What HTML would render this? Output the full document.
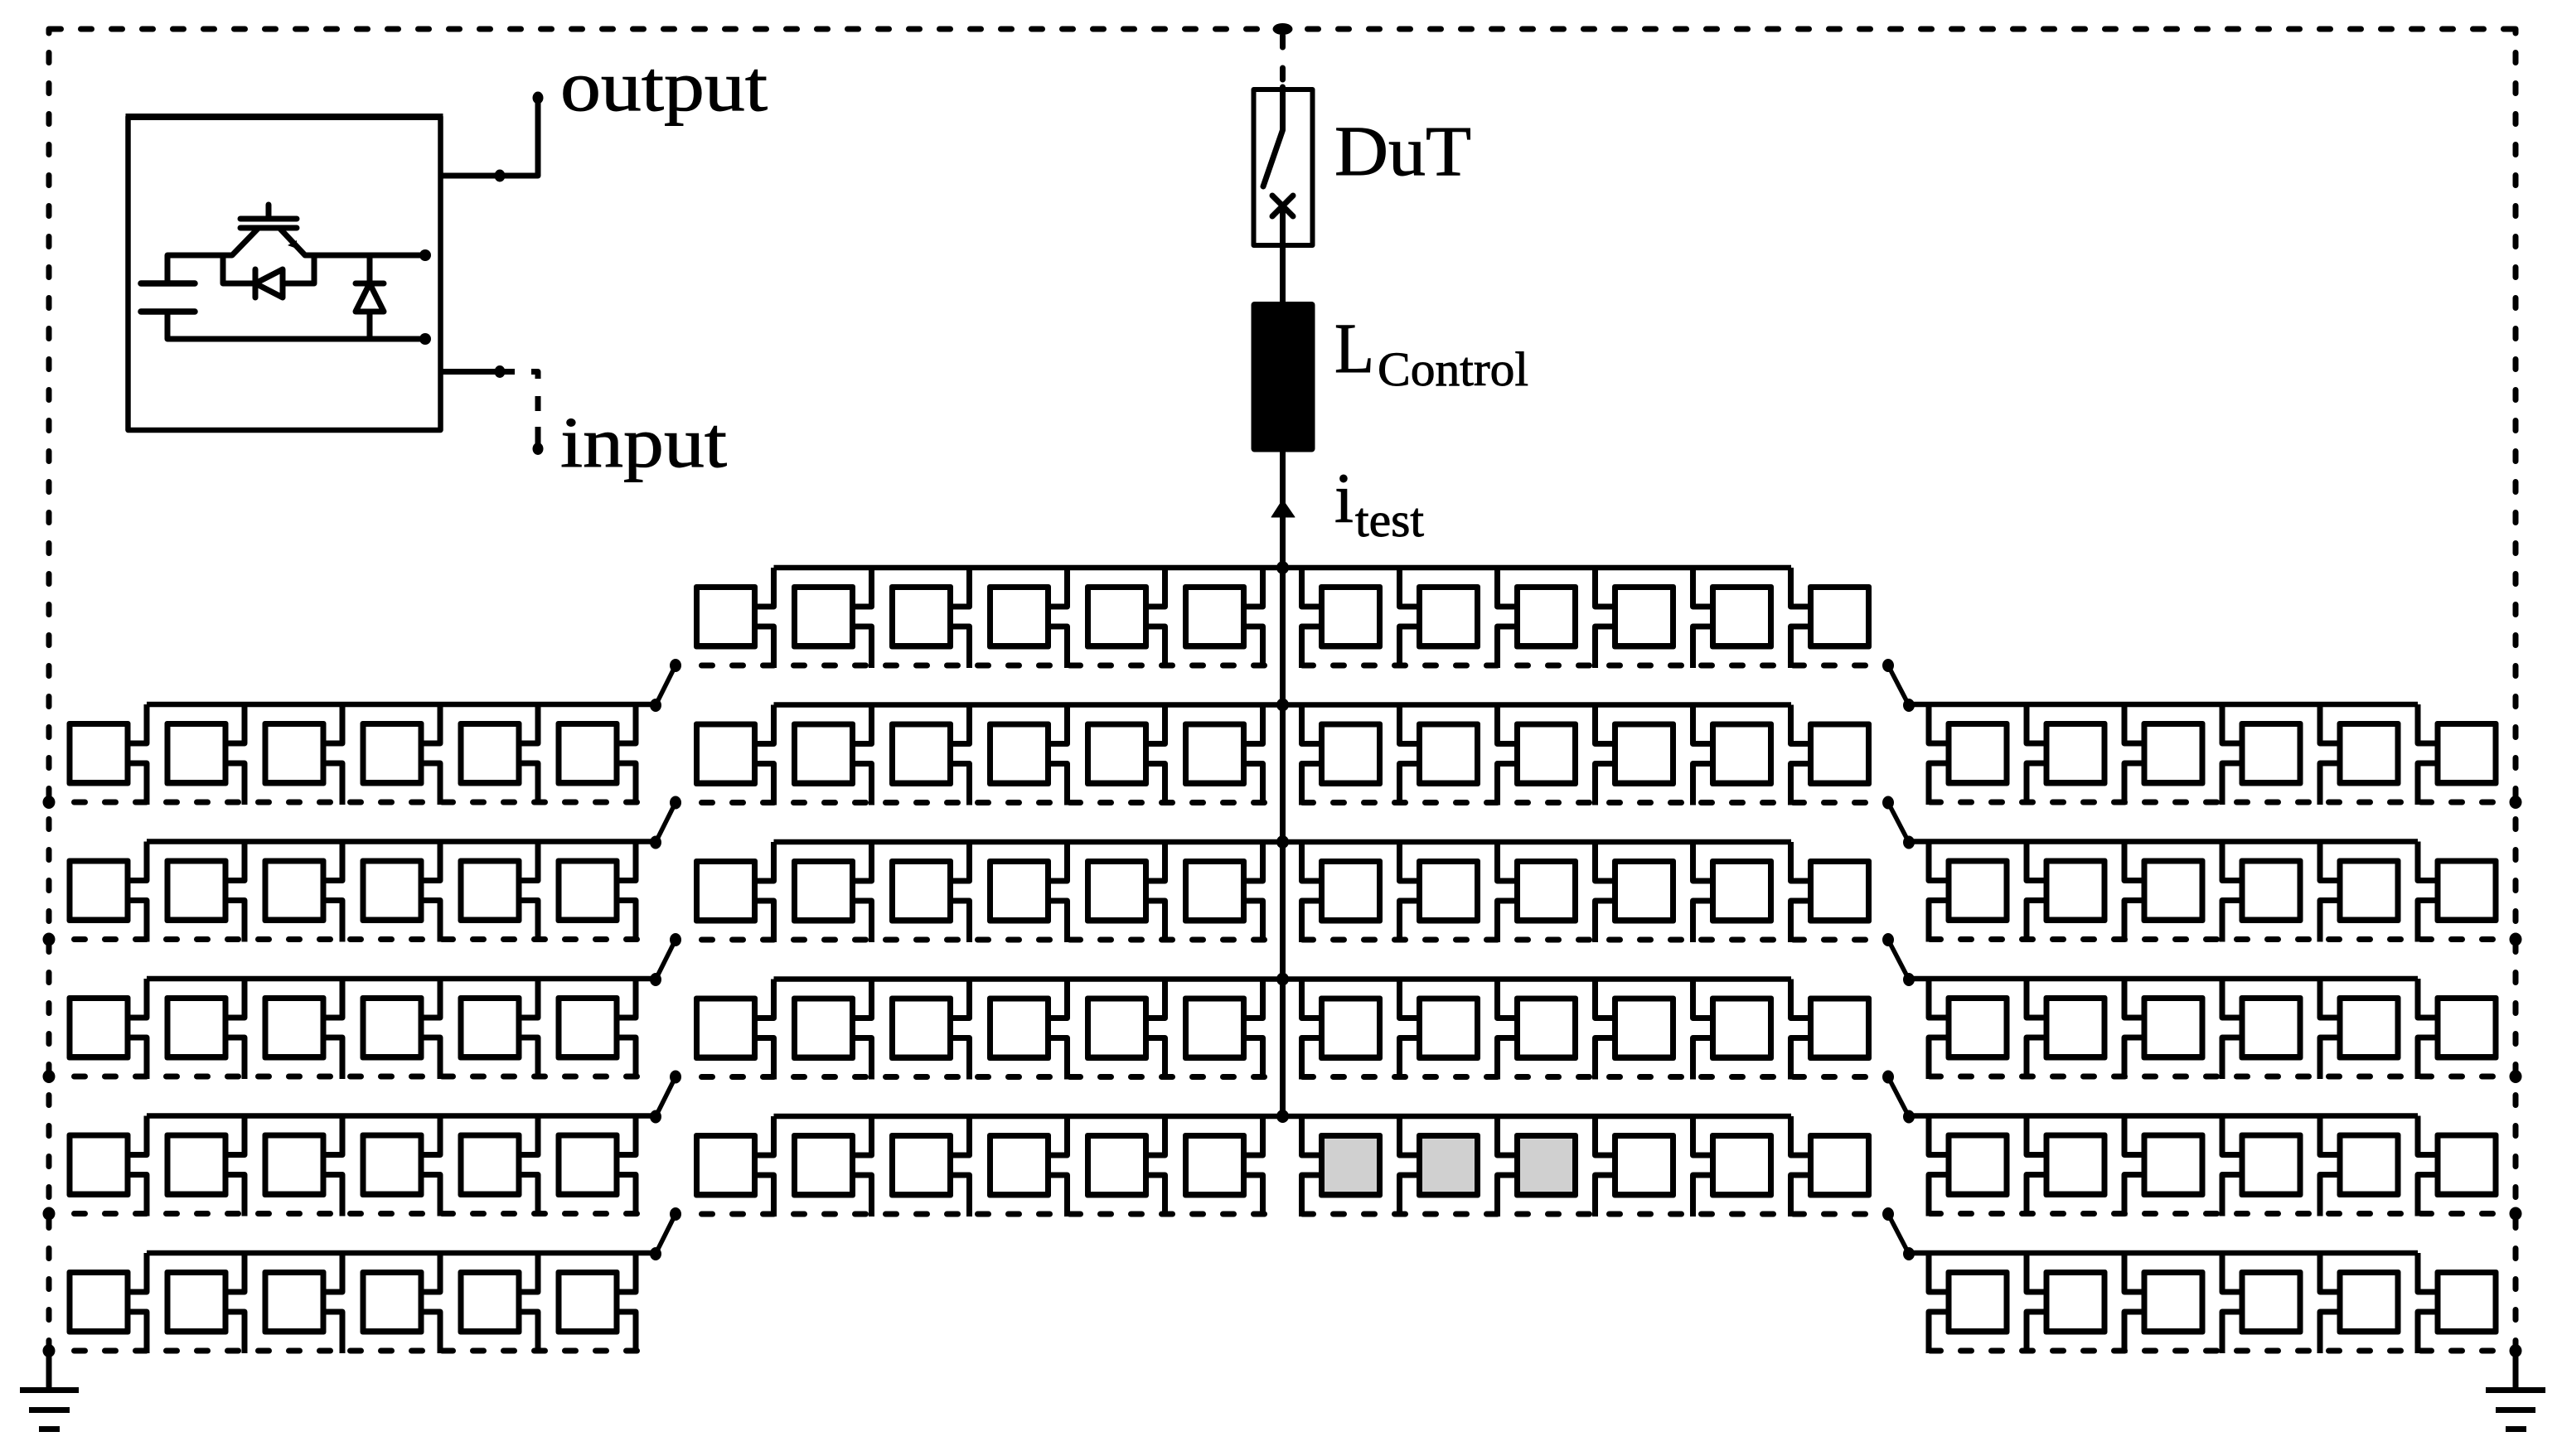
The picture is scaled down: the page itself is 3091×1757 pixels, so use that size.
<!DOCTYPE html>
<html>
<head>
<meta charset="utf-8">
<title>Test circuit diagram</title>
<style>
html,body{margin:0;padding:0;background:#fff;}
svg{display:block;}
text{font-family:"Liberation Serif",serif;fill:#000;stroke:#000;stroke-width:0.9;}
</style>
</head>
<body>
<svg xmlns="http://www.w3.org/2000/svg" width="3091" height="1757" viewBox="0 0 3091 1757">
<defs>
  <g id="mL" fill="none" stroke="#000" stroke-width="7" stroke-linejoin="round">
    <path d="M77 47H96.5V0"/>
    <path d="M77 71H96.5V121"/>
    <rect x="0" y="20" width="77" height="78.5" rx="3" fill="#000" stroke="none"/>
    <rect x="7" y="27" width="63" height="64" fill="#fff" stroke="none"/>
  </g>
  <g id="mR" fill="none" stroke="#000" stroke-width="7" stroke-linejoin="round">
    <path d="M0 47H-20.5V0"/>
    <path d="M0 71H-20.5V121"/>
    <rect x="0" y="20" width="77" height="78.5" rx="3" fill="#000" stroke="none"/>
    <rect x="7" y="27" width="63" height="64" fill="#fff" stroke="none"/>
  </g>
  <g id="six-L">
    <use href="#mL" x="0"/><use href="#mL" x="118"/><use href="#mL" x="236"/>
    <use href="#mL" x="354"/><use href="#mL" x="472"/><use href="#mL" x="590"/>
  </g>
  <g id="six-R">
    <use href="#mR" x="0"/><use href="#mR" x="118"/><use href="#mR" x="236"/>
    <use href="#mR" x="354"/><use href="#mR" x="472"/><use href="#mR" x="590"/>
  </g>
  <g id="rowLeft">
    <use href="#six-L" x="80.5"/>
    <path d="M177 0H791" stroke="#000" stroke-width="6.5" fill="none"/>
    <path d="M89.5 118H771" stroke="#000" stroke-width="7" fill="none" stroke-linecap="round" stroke-dasharray="13 24"/>
    <path d="M791 1L815 -47" stroke="#000" stroke-width="5.5" fill="none"/>
    <ellipse cx="791" cy="1" rx="7" ry="8"/>
    <ellipse cx="815" cy="-47" rx="7" ry="8"/>
    <ellipse cx="59" cy="118" rx="7.5" ry="8"/>
  </g>
  <g id="rowRight">
    <use href="#six-R" x="2347.5"/>
    <path d="M2303 0H2917" stroke="#000" stroke-width="6.5" fill="none"/>
    <path d="M2328.5 118H3008" stroke="#000" stroke-width="7" fill="none" stroke-linecap="round" stroke-dasharray="13 24"/>
    <path d="M2303 1L2278 -47" stroke="#000" stroke-width="5.5" fill="none"/>
    <ellipse cx="2303" cy="1" rx="7" ry="8"/>
    <ellipse cx="2278" cy="-47" rx="7" ry="8"/>
    <ellipse cx="3035" cy="118" rx="7.5" ry="8"/>
  </g>
  <g id="rowCenter">
    <use href="#six-L" x="837"/>
    <use href="#six-R" x="1591"/>
    <path d="M933.5 0H2161" stroke="#000" stroke-width="6.5" fill="none"/>
    <path d="M846.5 118H1526" stroke="#000" stroke-width="7" fill="none" stroke-linecap="round" stroke-dasharray="13 24"/>
    <path d="M1571.5 118H2255" stroke="#000" stroke-width="7" fill="none" stroke-linecap="round" stroke-dasharray="13 24"/>
    <ellipse cx="1547.5" cy="0" rx="7.5" ry="8"/>
  </g>
</defs>

<rect width="3091" height="1757" fill="#fff"/>

<!-- outer dashed frame -->
<g fill="none" stroke="#000" stroke-width="7" stroke-linecap="round">
  <path d="M60.5 35H3036" stroke-dasharray="13 24"/>
  <path d="M59 63.5V1625" stroke-dasharray="12 25"/>
  <path d="M3035 63.5V1625" stroke-dasharray="12 25"/>
  <path d="M59 35V40M3035 35V40"/>
  <path d="M1547.5 43V57M1547.5 82V96"/>
</g>
<ellipse cx="1547.5" cy="35" rx="12" ry="7"/>

<!-- grounds -->
<path d="M59 1630V1676M3035 1630V1676" stroke="#000" stroke-width="7" fill="none"/>
<rect x="24" y="1674" width="71" height="7"/><rect x="35" y="1698" width="49" height="7"/><rect x="47" y="1721" width="25" height="7"/>
<rect x="2999" y="1674" width="72" height="7"/><rect x="3011" y="1698" width="48" height="7"/><rect x="3023" y="1721" width="25" height="7"/>

<!-- module rows -->
<use href="#rowLeft" y="850"/><use href="#rowLeft" y="1015.5"/><use href="#rowLeft" y="1181"/><use href="#rowLeft" y="1346.5"/><use href="#rowLeft" y="1512"/>
<use href="#rowRight" y="850"/><use href="#rowRight" y="1015.5"/><use href="#rowRight" y="1181"/><use href="#rowRight" y="1346.5"/><use href="#rowRight" y="1512"/>
<use href="#rowCenter" y="685"/><use href="#rowCenter" y="850.5"/><use href="#rowCenter" y="1016"/><use href="#rowCenter" y="1181.5"/><use href="#rowCenter" y="1347"/>

<!-- grey modules -->
<g fill="#d0d0d0">
  <rect x="1598" y="1374" width="63" height="64"/>
  <rect x="1716" y="1374" width="63" height="64"/>
  <rect x="1834" y="1374" width="63" height="64"/>
</g>

<!-- central vertical -->
<g fill="none" stroke="#000" stroke-width="7">
  <path d="M1547.5 545V1347"/>
  <path d="M1547.5 249V364"/>
  <path d="M1547.5 105V157L1524 225" stroke-width="7" stroke-linecap="round" stroke-linejoin="round"/>
  <path d="M1535 236L1560 261M1560 236L1535 261" stroke-width="7" stroke-linecap="round"/>
  <rect x="1512.5" y="108" width="71" height="188" stroke-width="6" stroke-linejoin="round"/>
</g>
<rect x="1509.5" y="364" width="77" height="181.5" rx="4" ry="4"/>
<path d="M1547.5 603L1562 624H1534Z" stroke="#000" stroke-width="1" stroke-linejoin="round"/>

<!-- IGBT module box -->
<g fill="none" stroke="#000" stroke-linejoin="round">
  <rect x="154.5" y="141" width="377" height="378" stroke-width="6.5"/>
  <path d="M151.5 141H534.5" stroke-width="8"/>
  <path d="M531 212H649V118" stroke-width="7"/>
  <path d="M531 448.5H603" stroke-width="7"/>
  <path d="M603 448.5H621" stroke-width="7"/>
  <path d="M641 448.5H649V457M649 478V496M649 515V545" stroke-width="7"/>
  <path d="M202 342V308H280L312 275M337 275L368 308H513M202 376V409H513" stroke-width="7" stroke-linecap="round"/>
  <path d="M170 342H235M170 376H235" stroke-width="7.5" stroke-linecap="round"/>
  <path d="M324 247V264M290 264H358M290 275H358" stroke-width="7" stroke-linecap="round"/>
  <path d="M269 308V342H308M341 342H379V308" stroke-width="7"/>
  <path d="M308 325V359" stroke-width="7" stroke-linecap="round"/>
  <path d="M341 325L308 342L341 359Z" stroke-width="7" fill="#fff"/>
  <path d="M446 308V342M446 376V409" stroke-width="7"/>
  <path d="M429 342H463" stroke-width="7" stroke-linecap="round"/>
  <path d="M446 342L429 376H463Z" stroke-width="7" fill="#fff"/>
</g>
<path d="M358 290L358 300L347 296Z"/>
<circle cx="513" cy="308" r="7"/><circle cx="513" cy="409" r="7"/>
<ellipse cx="603" cy="212" rx="6.5" ry="7.5"/><ellipse cx="603" cy="448.5" rx="6.5" ry="7.5"/>
<ellipse cx="649" cy="118" rx="6.5" ry="7.5"/><ellipse cx="649" cy="541.5" rx="6.5" ry="7.5"/>

<!-- labels -->
<text x="676" y="133" font-size="87" textLength="250" lengthAdjust="spacingAndGlyphs">output</text>
<text x="676" y="563" font-size="87" textLength="201" lengthAdjust="spacingAndGlyphs">input</text>
<text x="1610" y="211" font-size="86" textLength="165" lengthAdjust="spacingAndGlyphs">DuT</text>
<text x="1610" y="449" font-size="86" textLength="48" lengthAdjust="spacingAndGlyphs">L</text>
<text x="1662" y="465" font-size="58" textLength="182" lengthAdjust="spacingAndGlyphs">Control</text>
<text x="1610" y="630" font-size="86" textLength="23" lengthAdjust="spacingAndGlyphs">i</text>
<text x="1635" y="647" font-size="58" textLength="83" lengthAdjust="spacingAndGlyphs">test</text>
</svg>
</body>
</html>
